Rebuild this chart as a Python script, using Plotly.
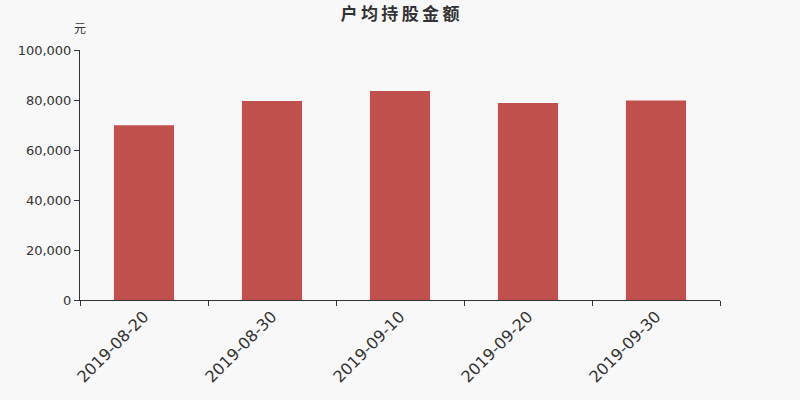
import plotly.graph_objects as go

dates = ["2019-08-20", "2019-08-30", "2019-09-10", "2019-09-20", "2019-09-30"]
avg_value = [69900, 79600, 83600, 78800, 79800]
y_ticks = [0, 20000, 40000, 60000, 80000, 100000]
y_labels = ["0", "20,000", "40,000", "60,000", "80,000", "100,000"]
title = "户均持股金额"

fig = go.Figure(go.Bar(x=dates, y=avg_value, marker_color="#c0504d",
                       marker_line_width=0, width=0.47, hoverinfo="skip"))

fig.update_layout(
    width=800, height=400,
    paper_bgcolor="#f8f8f8", plot_bgcolor="#f8f8f8",
    margin=dict(l=80, r=80, t=50, b=100),
    font=dict(family="DejaVu Sans", color="#333333", size=13),
    title=dict(text="<b>" + "\u2009".join(title) + "</b>", x=0.5, xanchor="center",
               y=0.965, yanchor="middle",
               font=dict(size=17, family="Noto Sans CJK SC", color="#333333")),
    showlegend=False,
    annotations=[dict(text="元", x=0, y=1.088, xref="paper", yref="paper", showarrow=False,
                      xanchor="center", yanchor="middle",
                      font=dict(size=12, family="Noto Sans CJK SC"))],
)

fig.update_xaxes(type="category", tickson="boundaries", ticks="outside", ticklen=5,
                 tickcolor="#333333", showline=True, linecolor="#333333", linewidth=1,
                 tickangle=-45, tickfont=dict(size=16), showgrid=False)
fig.update_yaxes(range=[0, 100000], tickvals=y_ticks, ticktext=y_labels, ticks="outside",
                 ticklen=5, tickcolor="#333333", showline=True, linecolor="#333333",
                 linewidth=1, showgrid=False, zeroline=False)

fig.write_html("out.html", config={"displayModeBar": False},
               post_script="document.body.style.margin='0';"
               "document.body.style.background='#f8f8f8';")
